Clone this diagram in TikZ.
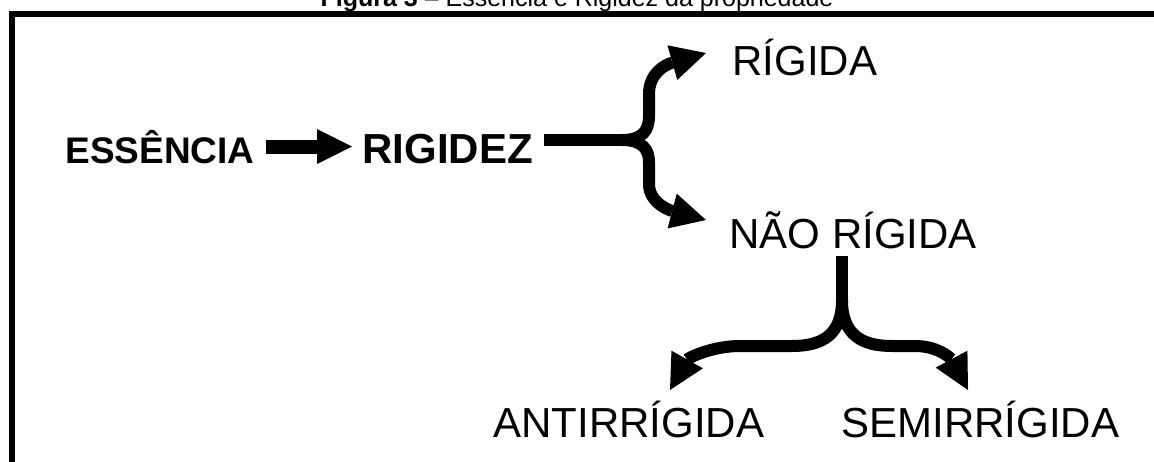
\documentclass[tikz,border=0pt]{standalone}
\usepackage{fontspec}
\setmainfont{Liberation Sans}
\usetikzlibrary{arrows.meta}

\begin{document}
\begin{tikzpicture}[x=0.5pt,y=-0.5pt]
\tikzset{
  word/.style={inner sep=0pt, anchor=base west, font=\fontsize{21}{21}\selectfont},
  boldword/.style={word, font=\fontsize{#1}{#1}\selectfont\bfseries},
  bar/.style={line width=6pt, line cap=butt},
  fat/.style={bar, -{Triangle[length=17.5pt,width=18pt,line width=0pt]}},
}
\useasboundingbox (0,0) rectangle (1154,461);
\clip (0,0) rectangle (1154,461);

\node [anchor=base, inner sep=0pt, font=\fontsize{12.5}{12.5}\selectfont] (title) at (577,6)
  {\textbf{Figura 3} -- Essência e Rigidez da propriedade};
\draw [line width=3pt] (12,520) -- (12,14) -- (1200,14);

\node [boldword=18.5] (ess) at (65,163) {ESSÊNCIA};
\node [boldword=21] (rig) at (362,163) {RIGIDEZ};
\node [word] (rigida) at (732,75) {RÍGIDA};
\node [word] (nao) at (729,248) {NÃO RÍGIDA};
\node [word] (anti) at (493,437) {ANTIRRÍGIDA};
\node [word] (semi) at (841,437) {SEMIRRÍGIDA};

\draw [line width=7pt, -{Triangle[length=17.5pt,width=17.5pt,line width=0pt]},
  shorten <=5.5pt, shorten >=5pt] (ess.east) -- (ess.east -| rig.west);

\coordinate (fork) at (622,140);
\coordinate (tipA) at (706,53);
\coordinate (tipB) at (706,220);
\draw [bar, shorten <=5.5pt] (rig.east |- fork) -- (fork);
\draw [fat] (fork) .. controls (643,140) and (649,130) .. (649,116) -- (649,94)
  .. controls (649,74) and (664,65) .. (tipA);
\draw [fat] (fork) .. controls (643,140) and (649,150) .. (649,162) -- (649,184)
  .. controls (649,204) and (672,211) .. (tipB);

% stem under the second label, then the two lower branches
\coordinate (split) at (842,300);
\coordinate (tipC) at (670,390);
\coordinate (tipD) at (968,390);
\draw [bar, shorten <=3.5pt] (split |- nao.south) -- (split);
\draw [fat] (split) .. controls (842,335) and (822,346) .. (792,346) -- (740,346)
  .. controls (712,346) and (688,358) .. (tipC);
\draw [fat] (split) .. controls (842,335) and (862,346) .. (892,346) -- (915,346)
  .. controls (940,346) and (952,360) .. (tipD);

\end{tikzpicture}
\end{document}
